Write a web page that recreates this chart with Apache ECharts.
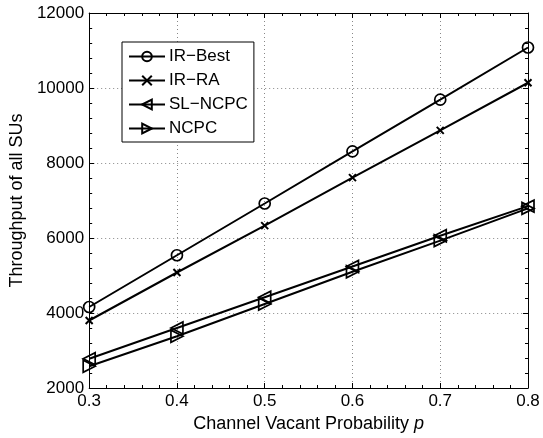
<!DOCTYPE html>
<html>
<head>
<meta charset="utf-8">
<script src="https://cdn.jsdelivr.net/npm/echarts@6/dist/echarts.min.js"></script>
<style>html,body{margin:0;padding:0;background:#fff}#c{width:543px;height:438px}</style>
</head>
<body>
<div id="c"></div>
<script>
const pValues = [0.3, 0.4, 0.5, 0.6, 0.7, 0.8];
const irBest = [4160, 5540, 6920, 8310, 9690, 11080];
const irRA = [3800, 5080, 6330, 7610, 8870, 10140];
const slNCPC = [2780, 3600, 4420, 5240, 6060, 6850];
const ncpc = [2580, 3380, 4240, 5100, 5930, 6790];
const seriesNames = ['IR\u2212Best', 'IR\u2212RA', 'SL\u2212NCPC', 'NCPC'];

const FONT = 'Liberation Sans';
const chart = echarts.init(document.getElementById('c'), null, {renderer: 'canvas'});

function pairs(vals) { return pValues.map((p, i) => [p, vals[i]]); }

const crossPath = 'path://M0,0L10,10M10,0L0,10';
const common = {
  type: 'line',
  showSymbol: true,
  lineStyle: {color: '#000', width: 2},
  itemStyle: {color: 'transparent', borderColor: '#000', borderWidth: 1.7},
  emphasis: {disabled: true},
  animation: false
};

const tickLabel = {color: '#000', fontFamily: FONT, fontSize: 17};
const axisLine = {show: true, lineStyle: {color: '#000', width: 1}};
const tick = {show: true, inside: true, length: 5, lineStyle: {color: '#000'}};
const minor = {show: true, splitNumber: 5, length: 3, lineStyle: {color: '#000'}};

chart.setOption({
  backgroundColor: '#fff',
  animation: false,
  grid: {left: 88, right: 15, top: 13, bottom: 50},
  legend: {
    left: 122, top: 42,
    orient: 'vertical',
    padding: [6, 6, 5, 6],
    borderColor: '#000', borderWidth: 1,
    backgroundColor: '#fff',
    itemWidth: 36, itemHeight: 12, itemGap: 7,
    textStyle: {fontFamily: FONT, fontSize: 17, color: '#000', lineHeight: 14, padding: [0, 0, 0, -1]},
    data: seriesNames
  },
  xAxis: [{
    type: 'value', min: 0.3, max: 0.8, interval: 0.1,
    position: 'bottom',
    name: 'Channel Vacant Probability {i|p}',
    nameLocation: 'middle', nameGap: 25,
    nameTextStyle: {fontFamily: FONT, fontSize: 18, color: '#000',
      rich: {i: {fontFamily: FONT, fontSize: 18, fontStyle: 'italic', color: '#000'}}},
    axisLine: axisLine,
    axisTick: tick,
    minorTick: minor,
    axisLabel: Object.assign({margin: 5, formatter: v => v.toFixed(1)}, tickLabel),
    splitLine: {show: true, lineStyle: {color: '#888', type: [1, 3], width: 1}}
  }, {
    type: 'value', min: 0.3, max: 0.8, interval: 0.1,
    position: 'top',
    axisLine: axisLine,
    axisTick: tick,
    minorTick: minor,
    axisLabel: {show: false},
    splitLine: {show: false}
  }],
  yAxis: [{
    type: 'value', min: 2000, max: 12000, interval: 2000,
    position: 'left',
    name: 'Throughput of all SUs',
    nameLocation: 'middle', nameGap: 60,
    nameTextStyle: {fontFamily: FONT, fontSize: 18, color: '#000'},
    axisLine: axisLine,
    axisTick: tick,
    minorTick: minor,
    axisLabel: Object.assign({margin: 5, formatter: v => String(v)}, tickLabel),
    splitLine: {show: true, lineStyle: {color: '#888', type: [1, 3], width: 1}}
  }, {
    type: 'value', min: 2000, max: 12000, interval: 2000,
    position: 'right',
    axisLine: axisLine,
    axisTick: tick,
    minorTick: minor,
    axisLabel: {show: false},
    splitLine: {show: false}
  }],
  series: [
    Object.assign({}, common, {name: seriesNames[0], data: pairs(irBest), symbol: 'circle', symbolSize: 11}),
    Object.assign({}, common, {name: seriesNames[1], data: pairs(irRA), symbol: crossPath, symbolSize: 7,
      itemStyle: {color: 'transparent', borderColor: '#000', borderWidth: 2}}),
    Object.assign({}, common, {name: seriesNames[2], data: pairs(slNCPC), symbol: 'triangle', symbolSize: 12, symbolRotate: 90}),
    Object.assign({}, common, {name: seriesNames[3], data: pairs(ncpc), symbol: 'triangle', symbolSize: 12, symbolRotate: -90})
  ]
});
</script>
</body>
</html>
